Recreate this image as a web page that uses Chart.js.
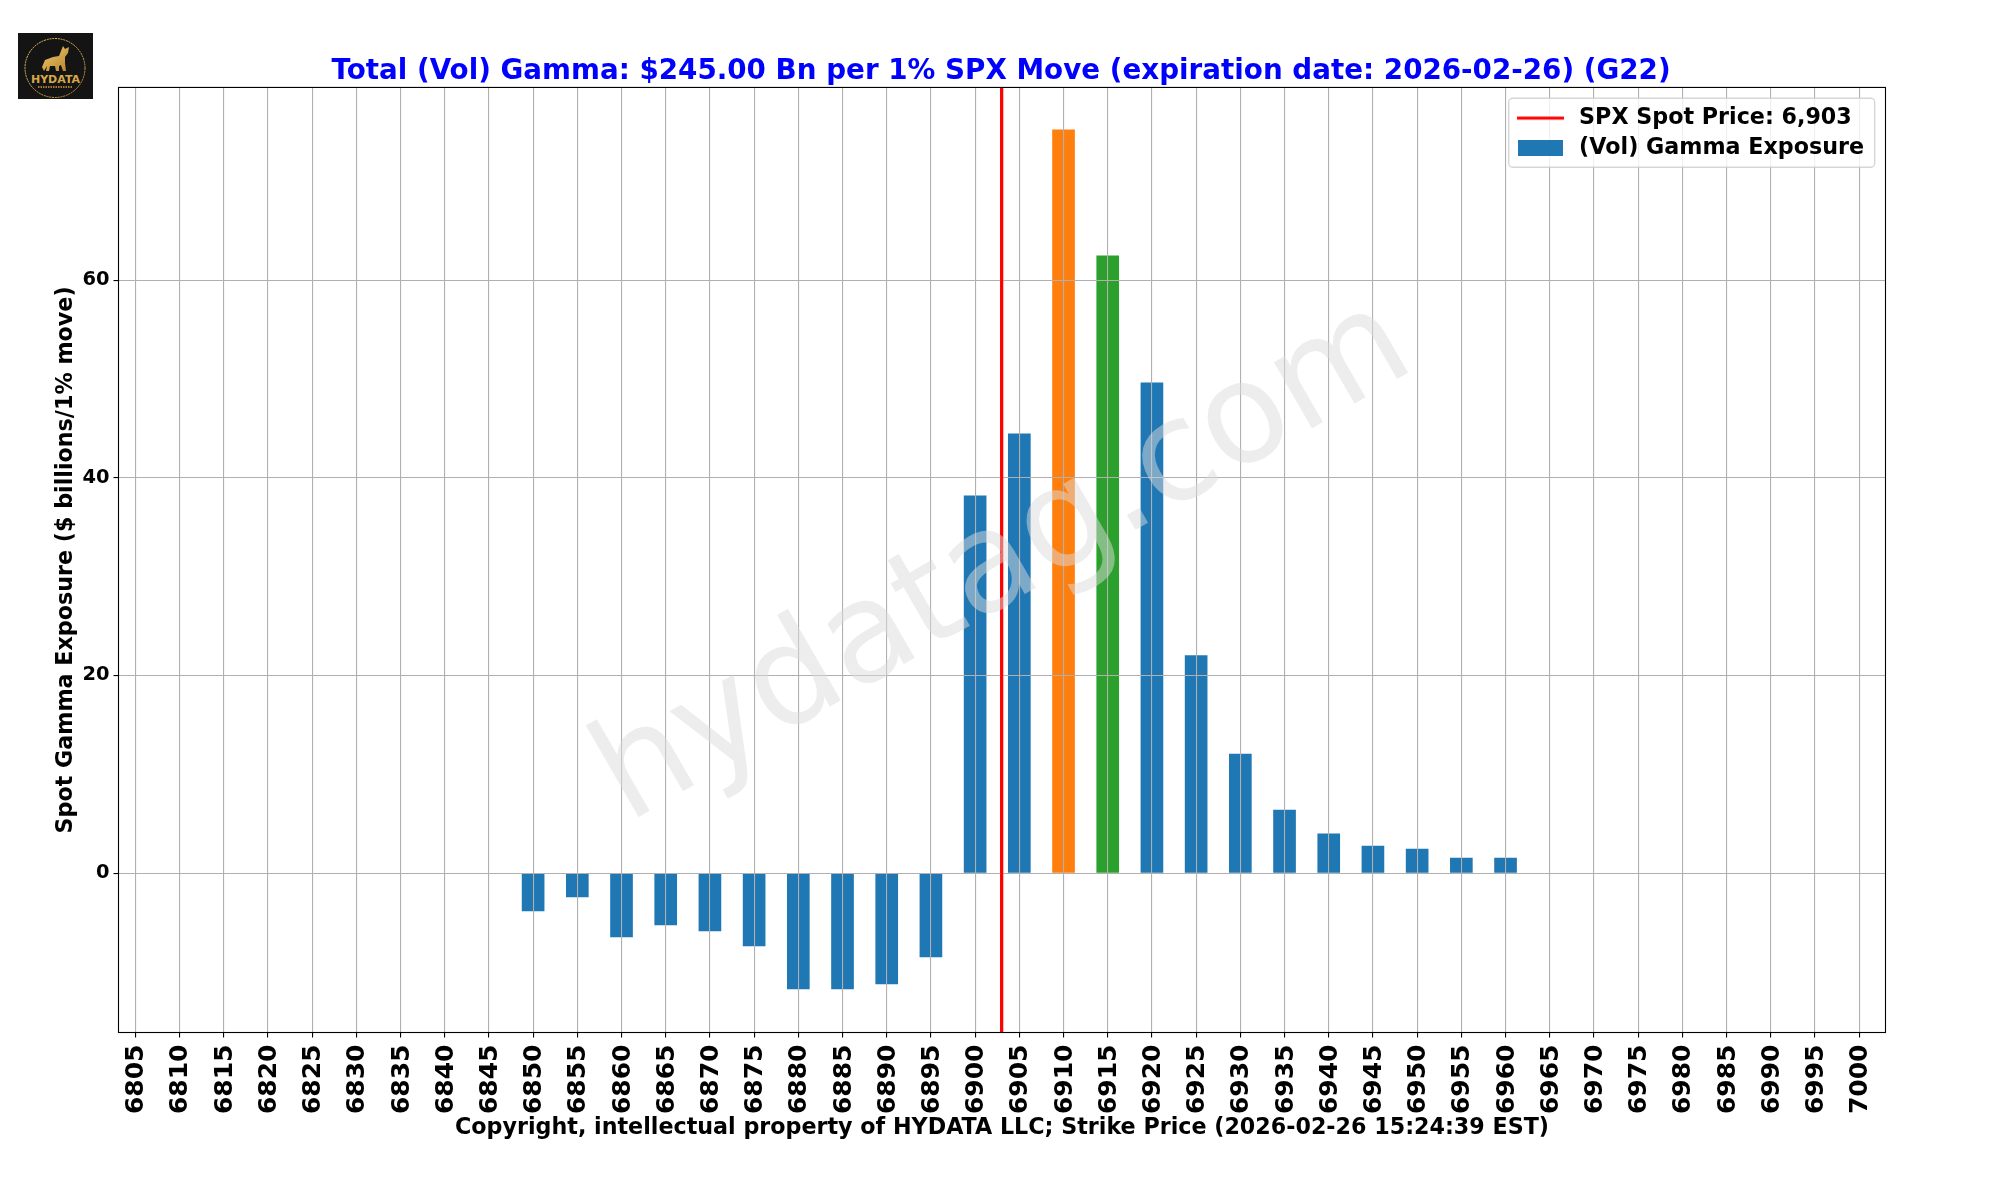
<!DOCTYPE html>
<html>
<head>
<meta charset="utf-8">
<script src="https://cdn.jsdelivr.net/npm/chart.js@4"></script>
<style>
html,body{margin:0;padding:0;background:#fff;}
#wrap{position:relative;width:2000px;height:1200px;}
canvas#c{position:absolute;left:0;top:0;}
#logo{position:absolute;left:18px;top:33px;width:75px;height:66px;}
</style>
</head>
<body>
<div id="wrap">
<canvas id="c" width="2000" height="1200"></canvas>
<svg id="logo" viewBox="0 0 75 66" xmlns="http://www.w3.org/2000/svg">
<defs><linearGradient id="g" x1="0" y1="0" x2="1" y2="1"><stop offset="0" stop-color="#f0c868"/><stop offset="1" stop-color="#b8862f"/></linearGradient></defs>
<rect width="75" height="66" fill="#141414"/>
<ellipse cx="37" cy="35" rx="30" ry="29.5" fill="none" stroke="url(#g)" stroke-width="1" stroke-dasharray="2 0.8"/>
<path d="M24 34 L27 27 L35 24 L41 23 L45 13 L47 16 L51 14 L50 20 L47 24 L47 30 L48 38 L45 38 L43 32 L41 33 L41 38 L38 38 L37 33 L32 33 L31 38 L28 38 L29 33 L26 38 Z" fill="url(#g)"/>
<text x="37.5" y="49.5" text-anchor="middle" font-family="DejaVu Sans" font-size="11" font-weight="bold" fill="#d7a848">HYDATA</text>
<line x1="20" y1="54" x2="54" y2="54" stroke="#a8782c" stroke-width="2" stroke-dasharray="1.5 1"/>
</svg>
</div>
<script>
const chartTitle = "Total (Vol) Gamma: $245.00 Bn per 1% SPX Move (expiration date: 2026-02-26) (G22)";
const xAxisTitle = "Copyright, intellectual property of HYDATA LLC; Strike Price (2026-02-26 15:24:39 EST)";
const yAxisTitle = "Spot Gamma Exposure ($ billions/1% move)";
const spotLabel = "SPX Spot Price: 6,903";
const gammaLabel = "(Vol) Gamma Exposure";
const watermark = "hydatag.com";
const spotPrice = 6903;
const strikes = [6805,6810,6815,6820,6825,6830,6835,6840,6845,6850,6855,6860,6865,6870,6875,6880,6885,6890,6895,6900,6905,6910,6915,6920,6925,6930,6935,6940,6945,6950,6955,6960,6965,6970,6975,6980,6985,6990,6995,7000];
const gammaValues = [null,null,null,null,null,null,null,null,null,-3.84,-2.42,-6.47,-5.25,-5.86,-7.38,-11.73,-11.73,-11.22,-8.49,38.16,44.43,75.19,62.44,49.59,22.01,12.05,6.38,3.96,2.74,2.44,1.53,1.53,null,null,null,null,null,null,null,null];
const largestStrike = 6910;
const secondStrike = 6915;
const xRange = [6803.1, 7002.98];
const yRange = [-16.13, 79.49];

const FONT = "'DejaVu Sans'";
Chart.defaults.font.family = FONT;
Chart.defaults.color = "#000";

const barColors = strikes.map(s => s === largestStrike ? "#ff7f0e" : s === secondStrike ? "#2ca02c" : "#1f77b4");

function legendSwatch(draw){
  const c = document.createElement("canvas");
  c.width = 52; c.height = 16;
  draw(c.getContext("2d"));
  return c;
}
const lineSwatch = legendSwatch(g => { g.fillStyle = "#ff0000"; g.fillRect(1, 6.5, 47, 3); });
const barSwatch = legendSwatch(g => { g.fillStyle = "#1f77b4"; g.fillRect(2, 0, 45, 16); });

const finishing = {
  id: "finishing",
  beforeLayout(chart){ chart.legend._layers = () => []; },
  afterLayout(chart){
    const l = chart.legend;
    l.left = 1508; l.right = 1875; l.top = 99; l.bottom = 168;
    const t = chart.titleBlock;
    t.left = 118; t.right = 1884; t.top += 5; t.bottom += 5;
  },
  afterDraw(chart){
    const ctx = chart.ctx, a = chart.chartArea;
    // spot line goes above the grid
    chart.getDatasetMeta(1).controller.draw();
    // watermark
    ctx.save();
    ctx.translate(1023, 595);
    ctx.rotate(-30 * Math.PI / 180);
    ctx.font = "139px " + FONT;
    ctx.textAlign = "center";
    ctx.textBaseline = "alphabetic";
    ctx.fillStyle = "rgba(220,220,220,0.5)";
    ctx.fillText(watermark, 0, 0);
    ctx.restore();
    // axes frame
    ctx.save();
    ctx.strokeStyle = "#000";
    ctx.lineWidth = 1.1;
    ctx.strokeRect(a.left, a.top, a.right - a.left, a.bottom - a.top);
    // legend frame
    const x = 1508.7, y = 98.3, w = 366, h = 69, r = 4;
    ctx.beginPath();
    ctx.roundRect(x, y, w, h, r);
    ctx.fillStyle = "rgba(255,255,255,0.8)";
    ctx.fill();
    ctx.strokeStyle = "rgba(204,204,204,0.8)";
    ctx.lineWidth = 1.4;
    ctx.stroke();
    ctx.restore();
    chart.legend.draw();
  }
};

new Chart(document.getElementById("c"), {
  data: {
    datasets: [
      {
        type: "bar",
        label: gammaLabel,
        data: strikes.map((s, i) => ({x: s, y: gammaValues[i]})),
        backgroundColor: barColors,
        borderWidth: 0,
        barThickness: 22,
        order: 2
      },
      {
        type: "line",
        label: spotLabel,
        data: [{x: spotPrice, y: yRange[0]}, {x: spotPrice, y: yRange[1]}],
        borderColor: "#ff0000",
        borderWidth: 3,
        pointRadius: 0,
        fill: false,
        order: 1
      }
    ]
  },
  options: {
    responsive: false,
    animation: false,
    devicePixelRatio: 1,
    layout: {padding: {left: 50, right: 114.5, top: 0, bottom: 42.5}},
    scales: {
      x: {
        type: "linear",
        min: xRange[0],
        max: xRange[1],
        offset: false,
        afterFit(s){ s.height = 125; },
        grid: {color: "#b0b0b0", lineWidth: 1.1, z: 1, offset: false, tickColor: "#000", tickLength: 5, tickWidth: 1.1},
        border: {display: false},
        ticks: {
          stepSize: 5,
          includeBounds: false,
          autoSkip: false,
          maxRotation: 90,
          minRotation: 90,
          padding: 7,
          labelOffset: 1.5,
          color: "#000",
          font: {size: 25, weight: "bold"},
          callback: v => String(v)
        },
        title: {display: true, text: xAxisTitle, color: "#000", font: {size: 22.22, weight: "bold"}, padding: {top: 0, bottom: 16}}
      },
      y: {
        min: yRange[0],
        max: yRange[1],
        afterFit(s){ s.width = 68.5; },
        grid: {color: "#b0b0b0", lineWidth: 1.1, z: 1, tickColor: "#000", tickLength: 5, tickWidth: 1.1},
        border: {display: false},
        ticks: {
          stepSize: 20,
          includeBounds: false,
          padding: 4,
          color: "#000",
          font: {size: 19.44, weight: "bold"},
          callback: v => String(v)
        },
        title: {display: true, text: yAxisTitle, color: "#000", font: {size: 22.22, weight: "bold"}, padding: {top: 3, bottom: 0}}
      }
    },
    plugins: {
      title: {
        display: true,
        text: chartTitle,
        color: "#0000ff",
        font: {size: 27.78, weight: "bold"},
        padding: {top: 50, bottom: 4.1}
      },
      legend: {
        display: true,
        position: "chartArea",
        align: "start",
        labels: {
          color: "#000",
          font: {size: 22.22, weight: "bold"},
          usePointStyle: true,
          pointStyleWidth: 52,
          boxHeight: 16,
          padding: 8,
          generateLabels(){
            return [
              {text: spotLabel, pointStyle: lineSwatch, strokeStyle: "#ff0000", fillStyle: "#ff0000", lineWidth: 0, datasetIndex: 1},
              {text: gammaLabel, pointStyle: barSwatch, strokeStyle: "#1f77b4", fillStyle: "#1f77b4", lineWidth: 0, datasetIndex: 0}
            ];
          }
        }
      },
      tooltip: {enabled: false}
    }
  },
  plugins: [finishing]
});
</script>
</body>
</html>
